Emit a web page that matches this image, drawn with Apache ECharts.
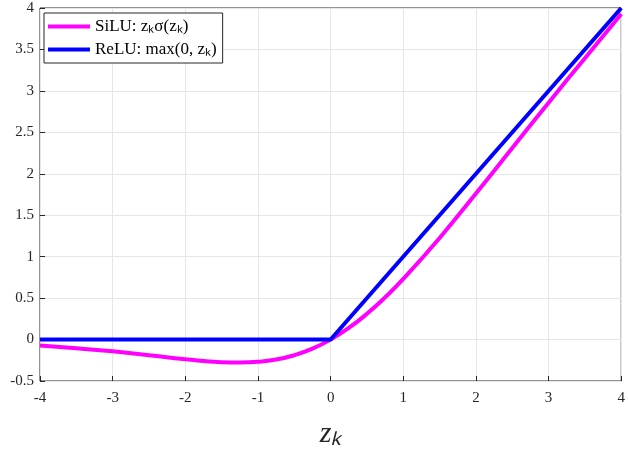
<!DOCTYPE html>
<html><head><meta charset="utf-8">
<script src="https://cdn.jsdelivr.net/npm/echarts@6/dist/echarts.min.js"></script>
<style>html,body{margin:0;padding:0;background:#fff}#c{width:628px;height:454px}</style>
</head><body><div id="c"></div>
<script>
const xTicks = [-4,-3,-2,-1,0,1,2,3,4];
const yTicks = [-0.5,0,0.5,1,1.5,2,2.5,3,3.5,4];
const siluX = [-4,-3.5,-3,-2.5,-2,-1.5,-1.25,-1,-0.75,-0.5,-0.25,0,0.25,0.5,0.75,1,1.5,2,2.5,3,3.5,4];
const siluY = [-0.072,-0.105,-0.142,-0.189,-0.238,-0.274,-0.278,-0.269,-0.241,-0.189,-0.110,0,0.140,0.311,0.509,0.731,1.226,1.762,2.311,2.858,3.395,3.928];
const reluX = [-4,0,4];
const reluY = [0,0,4];
const font = 'Liberation Serif';
const chart = echarts.init(document.getElementById('c'));
chart.setOption({
  animation:false,
  grid:{left:40,right:6,top:8,bottom:71,show:true,borderColor:'#262626',borderWidth:1},
  legend:{left:44,top:13,orient:'vertical',itemWidth:42,itemHeight:4,itemGap:6,
    backgroundColor:'#fff',borderColor:'#262626',borderWidth:1,padding:[5,6,5,4],
    textStyle:{fontFamily:font,fontSize:17,color:'#000'},
    data:[{name:'SiLU: zₖσ(zₖ)',icon:'rect'},{name:'ReLU: max(0, zₖ)',icon:'rect'}]},
  xAxis:{type:'value',min:-4,max:4,interval:1,name:'zₖ',nameLocation:'middle',nameGap:38,
    nameTextStyle:{fontFamily:font,fontStyle:'italic',fontSize:30,color:'#262626'},
    axisLine:{show:false,onZero:false},axisTick:{show:true,inside:true,lineStyle:{color:'#262626'}},
    splitLine:{lineStyle:{color:'#e6e6e6'}},
    axisLabel:{fontFamily:font,fontSize:15,color:'#262626',margin:10}},
  yAxis:{type:'value',min:-0.5,max:4,interval:0.5,
    axisLine:{show:false,onZero:false},axisTick:{show:true,inside:true,lineStyle:{color:'#262626'}},
    splitLine:{lineStyle:{color:'#e6e6e6'}},
    axisLabel:{fontFamily:font,fontSize:15,color:'#262626',margin:6}},
  series:[
    {name:'SiLU: zₖσ(zₖ)',type:'line',smooth:true,showSymbol:false,color:'#ff00ff',
     lineStyle:{width:4},data:siluX.map((x,i)=>[x,siluY[i]])},
    {name:'ReLU: max(0, zₖ)',type:'line',showSymbol:false,color:'#0000ff',
     lineStyle:{width:4},data:reluX.map((x,i)=>[x,reluY[i]])}
  ]
});
</script></body></html>
